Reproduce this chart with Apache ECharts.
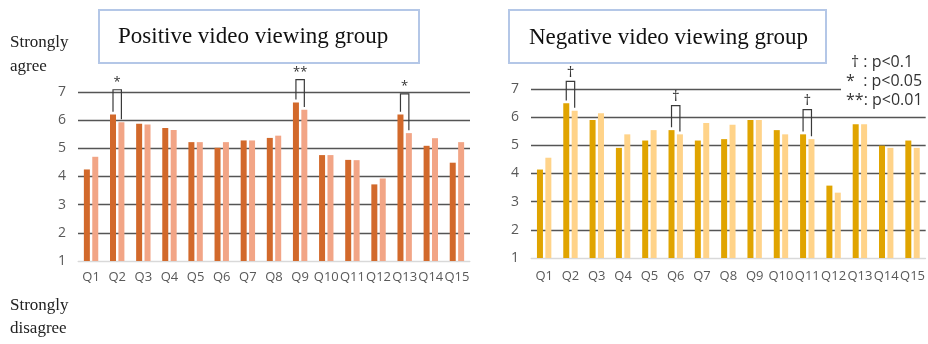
<!DOCTYPE html>
<html>
<head>
<meta charset="utf-8">
<script src="https://cdn.jsdelivr.net/npm/echarts@6/dist/echarts.min.js"></script>
<style>
  html, body { margin: 0; padding: 0; background: #fff; }
  #chart { width: 928px; height: 344px; }
</style>
</head>
<body>
<div id="chart"></div>
<script>
// Question labels shared by both panels
const questions = ['Q1','Q2','Q3','Q4','Q5','Q6','Q7','Q8','Q9','Q10','Q11','Q12','Q13','Q14','Q15'];
const scaleTicks = [1, 2, 3, 4, 5, 6, 7];

// Positive video viewing group (dark = first bar, light = second bar)
const posDark  = [4.25, 6.20, 5.87, 5.72, 5.22, 5.02, 5.28, 5.37, 6.63, 4.76, 4.59, 3.72, 6.20, 5.09, 4.49];
const posLight = [4.70, 5.93, 5.85, 5.65, 5.22, 5.22, 5.28, 5.45, 6.37, 4.76, 4.58, 3.93, 5.54, 5.36, 5.22];

// Negative video viewing group
const negDark  = [4.14, 6.49, 5.90, 4.91, 5.17, 5.54, 5.17, 5.22, 5.90, 5.54, 5.39, 3.57, 5.75, 4.99, 5.17];
const negLight = [4.56, 6.23, 6.14, 5.39, 5.54, 5.39, 5.79, 5.73, 5.90, 5.39, 5.22, 3.32, 5.75, 4.91, 4.91];

// Significance brackets: question index, marker, bracket height on the scale
const posSigIndex = [1, 8, 12];
const posSigMark  = ['*', '**', '*'];
const posSigTop   = [7.08, 7.44, 6.93];

const negSigIndex = [1, 5, 10];
const negSigMark  = ['\u2020', '\u2020', '\u2020'];
const negSigTop   = [7.27, 6.41, 6.27];

const legendLines = ['\u2020 : p<0.1', '*  : p<0.05', '**: p<0.01'];

const BAR_W = 6;
const BAR_GAP = 0.4;
const SANS = '"Open Sans", "DejaVu Sans", sans-serif';
const SERIF = '"Liberation Serif", "DejaVu Serif", serif';

function makeBracketSeries(axisIdx, idxs, marks, tops, dark, light, markSize) {
  const data = idxs.map((i, k) => [i, dark[i], light[i], tops[k]]);
  return {
    type: 'custom',
    xAxisIndex: axisIdx,
    yAxisIndex: axisIdx,
    clip: false,
    silent: true,
    z: 5,
    data: data,
    renderItem: function (params, api) {
      const idx = api.value(0);
      const top = api.coord([idx, api.value(3)]);
      const yDark = api.coord([idx, api.value(1) + 0.1])[1];
      const yLight = api.coord([idx, api.value(2) + 0.1])[1];
      const off = (BAR_W + BAR_W * BAR_GAP) / 2;
      const x = top[0];
      return {
        type: 'group',
        children: [
          {
            type: 'polyline',
            shape: { points: [[x - off, yDark], [x - off, top[1]], [x + off, top[1]], [x + off, yLight]] },
            style: { stroke: '#3a3a3a', lineWidth: 1.2, fill: null }
          },
          {
            type: 'text',
            style: {
              text: marks[params.dataIndex],
              x: x,
              y: top[1] - 1,
              textAlign: 'center',
              textVerticalAlign: 'bottom',
              font: markSize + 'px ' + SANS,
              fill: '#333'
            }
          }
        ]
      };
    }
  };
}

function makeYAxis(gridIdx, colors) {
  return {
    type: 'value',
    gridIndex: gridIdx,
    min: scaleTicks[0],
    max: scaleTicks[scaleTicks.length - 1],
    interval: 1,
    axisLine: { show: false },
    axisTick: { show: false },
    axisLabel: { color: '#595959', fontSize: 14, fontFamily: SANS, margin: 12 },
    splitLine: { show: true, lineStyle: { color: colors, width: 1.3 } }
  };
}

function makeXAxis(gridIdx, margin) {
  return {
    type: 'category',
    gridIndex: gridIdx,
    data: questions,
    axisLine: { show: true, lineStyle: { color: '#d9d9d9', width: 1 } },
    axisTick: { show: false },
    axisLabel: { color: '#595959', fontSize: 13, fontFamily: SANS, margin: margin, interval: 0 }
  };
}

const gridColors = ['#d9d9d9', '#555555', '#555555', '#555555', '#555555', '#555555', '#555555'];

const chart = echarts.init(document.getElementById('chart'), null, { renderer: 'canvas' });

chart.setOption({
  animation: false,
  backgroundColor: '#ffffff',
  grid: [
    { left: 78, top: 92, width: 392, height: 169 },
    { left: 531, top: 89, width: 395, height: 169 }
  ],
  xAxis: [makeXAxis(0, 10), makeXAxis(1, 12)],
  yAxis: [makeYAxis(0, gridColors), makeYAxis(1, gridColors)],
  series: [
    { type: 'bar', xAxisIndex: 0, yAxisIndex: 0, data: posDark, barWidth: BAR_W, barGap: (BAR_GAP * 100) + '%', itemStyle: { color: '#d2692b' } },
    { type: 'bar', xAxisIndex: 0, yAxisIndex: 0, data: posLight, barWidth: BAR_W, barGap: (BAR_GAP * 100) + '%', itemStyle: { color: '#f2a586' } },
    { type: 'bar', xAxisIndex: 1, yAxisIndex: 1, data: negDark, barWidth: BAR_W, barGap: (BAR_GAP * 100) + '%', itemStyle: { color: '#e0a400' } },
    { type: 'bar', xAxisIndex: 1, yAxisIndex: 1, data: negLight, barWidth: BAR_W, barGap: (BAR_GAP * 100) + '%', itemStyle: { color: '#ffd389' } },
    makeBracketSeries(0, posSigIndex, posSigMark, posSigTop, posDark, posLight, 13),
    makeBracketSeries(1, negSigIndex, negSigMark, negSigTop, negDark, negLight, 15)
  ],
  graphic: [
    // scale end captions
    { type: 'text', left: 10, top: 31, z: 20,
      style: { text: 'Strongly\nagree', font: '17px ' + SERIF, fill: '#222', lineHeight: 24 } },
    { type: 'text', left: 10, top: 294, z: 20,
      style: { text: 'Strongly\ndisagree', font: '17px ' + SERIF, fill: '#222', lineHeight: 23 } },
    // panel titles
    { type: 'rect', z: 20, shape: { x: 99, y: 10, width: 320, height: 53 },
      style: { fill: '#fff', stroke: '#b4c7e7', lineWidth: 2 } },
    { type: 'text', z: 21, x: 118, y: 37,
      style: { text: 'Positive video viewing group', font: '23px ' + SERIF, fill: '#111', textVerticalAlign: 'middle' } },
    { type: 'rect', z: 20, shape: { x: 509, y: 10, width: 317, height: 53 },
      style: { fill: '#fff', stroke: '#b4c7e7', lineWidth: 2 } },
    { type: 'text', z: 21, x: 529, y: 38,
      style: { text: 'Negative video viewing group', font: '23px ' + SERIF, fill: '#111', textVerticalAlign: 'middle' } },
    // significance key
    { type: 'rect', z: 20, shape: { x: 841, y: 52, width: 87, height: 58 }, style: { fill: '#fff' } },
    { type: 'text', z: 21, x: 851, y: 62,
      style: { text: legendLines[0], font: '16px ' + SANS, fill: '#333', textVerticalAlign: 'middle' } },
    { type: 'text', z: 21, x: 846, y: 81,
      style: { text: legendLines[1], font: '16px ' + SANS, fill: '#333', textVerticalAlign: 'middle' } },
    { type: 'text', z: 21, x: 846, y: 100,
      style: { text: legendLines[2], font: '16px ' + SANS, fill: '#333', textVerticalAlign: 'middle' } }
  ]
});
</script>
</body>
</html>
